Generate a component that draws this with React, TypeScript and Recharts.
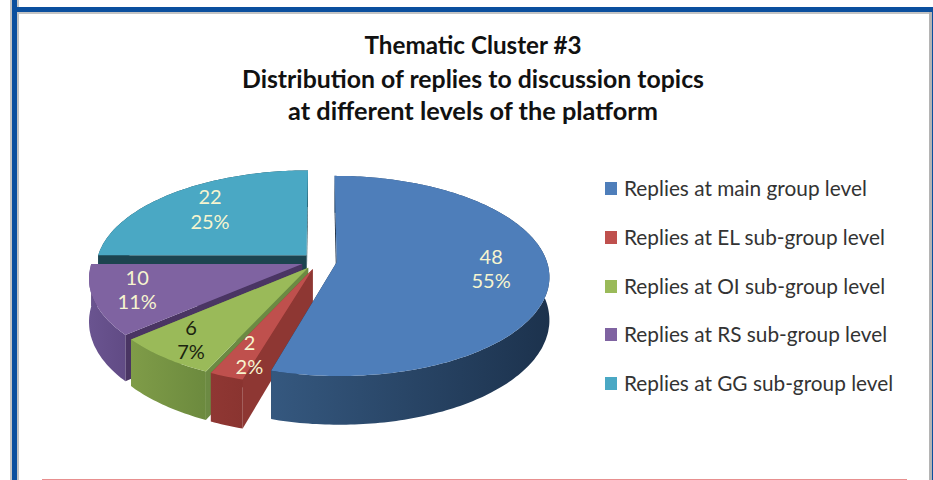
import React from "react";
import { PieChart, Pie, Legend } from "recharts";

const categories = [
  "Replies at main group level",
  "Replies at EL sub-group level",
  "Replies at OI sub-group level",
  "Replies at RS sub-group level",
  "Replies at GG sub-group level",
];
const replies = [48, 2, 6, 10, 22];
const percentLabels = ["55%", "2%", "7%", "11%", "25%"];
const topColors = ["#4e7eba", "#bf504d", "#9aba59", "#7f63a1", "#4aa8c4"];
const wallLight = ["#35587f", "#8f3733", "#7f9c48", "#6a5490", "#1c4450"];
const wallDark = ["#1c324d", "#8a3430", "#6c8a3e", "#614b85", "#1c4450"];
const cutColors = ["#17293f", "#8e3733", "#6c8a43", "#4a3563", "#1c4450"];
const labelColors = ["#f7f5cf", "#f7f5cf", "#1c2410", "#f7f5cf", "#f7f5cf"];
const titleLines = [
  "Thematic Cluster #3",
  "Distribution of replies to discussion topics",
  "at different levels of the platform",
];
const titleWidth = [217, 462, 370];
const titleBase = [54, 88, 120];
// label placement along each slice, Excel does not keep them on one radius
const labelRadius = [0.73, 0.76, 0.83, 0.8, 0.705];
const labelNudge = [-9, 2, -6, -8, -6];

// drawn back to front, so the pie gets the slices in reverse
const sliceData = categories
  .map((name, i) => ({ name, value: replies[i], idx: i, fill: topColors[i] }))
  .reverse();

const FONT = "Lato, 'Open Sans', sans-serif";
const SQUASH = 0.466; // ry / rx
const PERSP = 0.137;
const EXPLODE = 0.085;
const DEPTH = 42;

const project = (p: any, angle: number, r: number, ex: number, ey: number, drop = 0) => {
  const rad = (angle * Math.PI) / 180;
  const u = r * Math.cos(rad) + ex;
  const v = -r * Math.sin(rad) + ey;
  const s = 1 / (1 - PERSP * v);
  return [
    p.cx + p.outerRadius * u * s,
    p.cy + p.outerRadius * SQUASH * v * s + drop * s,
  ];
};

const toPath = (pts: number[][]) =>
  "M" + pts.map((q) => q[0].toFixed(1) + " " + q[1].toFixed(1)).join("L") + "Z";

const explodeOf = (p: any) => {
  const mid = (((p.startAngle + p.endAngle) / 2) * Math.PI) / 180;
  return [EXPLODE * Math.cos(mid), -EXPLODE * Math.sin(mid)];
};

const Slice3D = (p: any) => {
  const i = p.idx ?? p.payload?.idx;
  const [ex, ey] = explodeOf(p);
  const arcAngles: number[] = [];
  const steps = Math.max(2, Math.ceil(Math.abs(p.endAngle - p.startAngle)));
  for (let k = 0; k <= steps; k++) {
    arcAngles.push(p.startAngle + ((p.endAngle - p.startAngle) * k) / steps);
  }
  const topArc = arcAngles.map((a) => project(p, a, 1, ex, ey));
  const lowArc = arcAngles.map((a) => project(p, a, 1, ex, ey, DEPTH));
  const apex = project(p, 0, 0, ex, ey);
  const apexLow = project(p, 0, 0, ex, ey, DEPTH);
  const cut = (a: number[], b: number[]) => toPath([apex, a, b, apexLow]);
  return (
    <g>
      <path d={cut(topArc[0], lowArc[0])} fill={cutColors[i]} />
      <path d={cut(topArc[steps], lowArc[steps])} fill={cutColors[i]} />
      <path d={toPath([...topArc, ...[...lowArc].reverse()])} fill={`url(#wall${i})`} />
      <path d={toPath([apex, ...topArc])} fill={topColors[i]} />
    </g>
  );
};

const renderLabel = (p: any) => {
  const i = p.idx ?? p.payload?.idx;
  const [ex, ey] = explodeOf(p);
  const mid = (p.startAngle + p.endAngle) / 2;
  const [x, y] = project(p, mid, labelRadius[i], ex, ey);
  return (
    <text x={x} textAnchor="middle" fill={labelColors[i]} fontFamily={FONT} fontSize={20}>
      <tspan x={x} y={y + labelNudge[i]}>{replies[i]}</tspan>
      <tspan x={x} y={y + labelNudge[i] + 24.5}>{percentLabels[i]}</tspan>
    </text>
  );
};

const renderLegend = () => (
  <div style={{ fontFamily: FONT, fontSize: 20.8, color: "#333" }}>
    {categories.map((name, i) => (
      <div key={name} style={{ height: 48.8, display: "flex", alignItems: "flex-start" }}>
        <span style={{ width: 12, height: 13, background: topColors[i], marginTop: 6, marginRight: 7 }} />
        <span style={{ whiteSpace: "nowrap", lineHeight: "24px" }}>{name}</span>
      </div>
    ))}
  </div>
);

const bar = (left: number, top: number, width: number, height: number, background: string) => (
  <div style={{ position: "absolute", left, top, width, height, background }} />
);

export default function App() {
  return (
    <div style={{ position: "absolute", left: 0, top: 0, width: 933, height: 480, background: "#fff", overflow: "hidden" }}>
      {bar(10, 0, 9, 480, "#c4c4c4")}
      {bar(19, 12, 912, 2, "#c4c4c4")}
      {bar(929, 12, 3, 468, "#b4b4b4")}
      {bar(932, 7, 1, 473, "#0b4f9e")}
      {bar(12, 0, 5, 480, "#0b4f9e")}
      {bar(12, 7, 921, 5, "#0b4f9e")}
      {bar(19, 14, 910, 466, "#fff")}
      {bar(42, 479, 865, 1, "#e88f8f")}
      <PieChart width={933} height={480} style={{ position: "absolute", left: 0, top: 0 }}>
        <defs>
          {categories.map((_, i) => (
            <linearGradient key={i} id={`wall${i}`} x1="0" y1="0" x2="1" y2="0">
              <stop offset="0%" stopColor={wallLight[i]} />
              <stop offset="100%" stopColor={wallDark[i]} />
            </linearGradient>
          ))}
        </defs>
        {titleLines.map((t, i) => (
          <text
            key={t}
            x={473}
            y={titleBase[i]}
            textAnchor="middle"
            textLength={titleWidth[i]}
            lengthAdjust="spacingAndGlyphs"
            fontFamily={FONT}
            fontWeight={700}
            fontSize={24.5}
            fill="#111"
          >
            {t}
          </text>
        ))}
        <Pie
          data={sliceData}
          dataKey="value"
          nameKey="name"
          cx={314}
          cy={256}
          outerRadius={210}
          startAngle={90}
          endAngle={450}
          stroke="none"
          shape={Slice3D}
          label={renderLabel}
          labelLine={false}
          isAnimationActive={false}
        />
        <Legend
          layout="vertical"
          verticalAlign="top"
          align="right"
          wrapperStyle={{ left: 605, top: 176, width: 320 }}
          content={renderLegend}
        />
      </PieChart>
    </div>
  );
}
